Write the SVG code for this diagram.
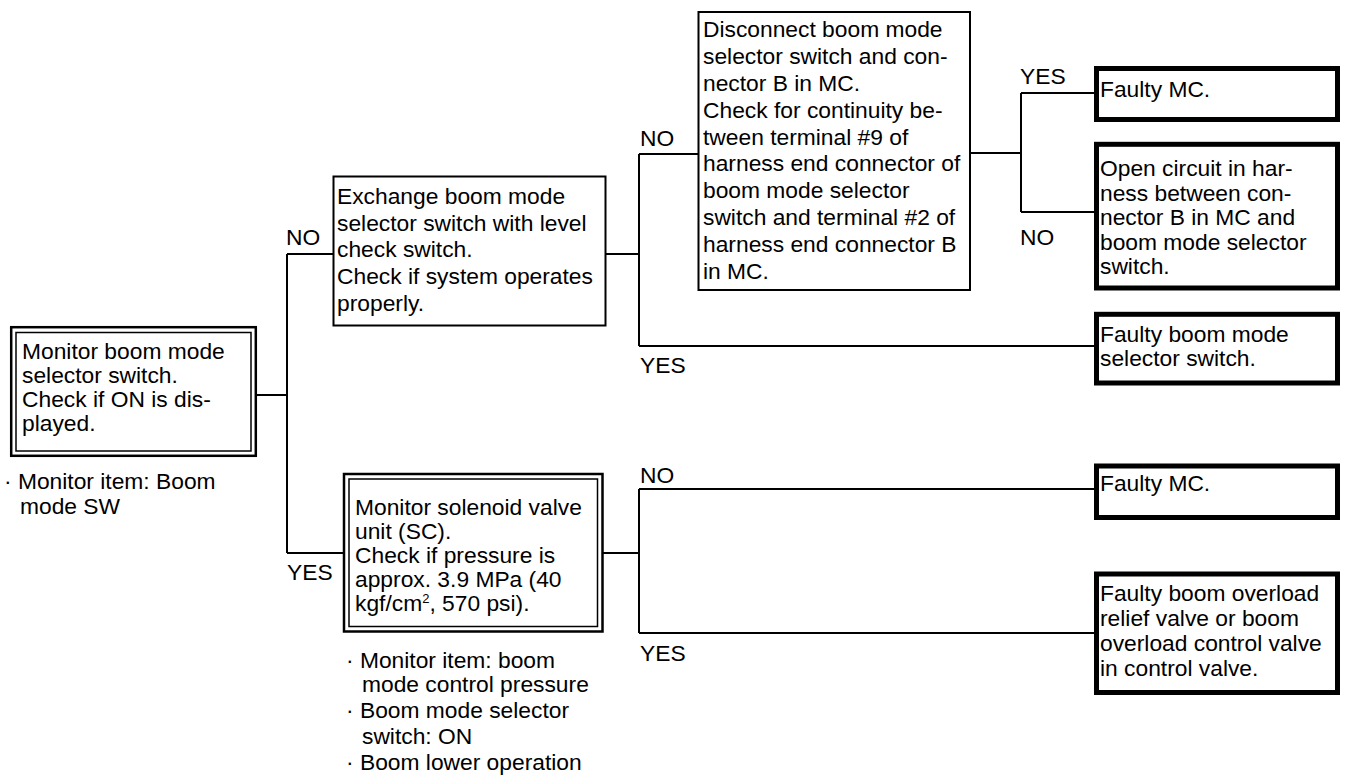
<svg xmlns="http://www.w3.org/2000/svg" width="1345" height="775" viewBox="0 0 1345 775">
<style>
text{font-family:"Liberation Sans",Arial,sans-serif;font-size:22.8px;fill:#000}
.thin{fill:#fff;stroke:#000;stroke-width:2}
.outer{fill:#fff;stroke:#000;stroke-width:2.5}
.inner{fill:none;stroke:#000;stroke-width:1.5}
.thick{fill:#fff;stroke:#000;stroke-width:5}
.conn{fill:none;stroke:#000;stroke-width:2}
</style>
<rect width="1345" height="775" fill="#fff"/>
<g id="connectors">
<path class="conn" d="M257 395H287M287 254V553M287 254H333M287 553H343"/>
<path class="conn" d="M606 254H639M639 154V346M639 154H698M639 346H1094"/>
<path class="conn" d="M970 153H1021M1021 93V212M1021 93H1094M1021 212H1094"/>
<path class="conn" d="M603 553H639M639 489V633M639 489H1094M639 633H1094"/>
<text x="286" y="245">NO</text>
<text x="287" y="580">YES</text>
<text x="640" y="146">NO</text>
<text x="640" y="373">YES</text>
<text x="1020" y="84">YES</text>
<text x="1020" y="245">NO</text>
<text x="640" y="483">NO</text>
<text x="640" y="661">YES</text>
</g>
<g id="n1">
<rect class="outer" x="11.2" y="327.2" width="244.6" height="128.6"/>
<rect class="inner" x="16" y="332.5" width="235" height="118.5"/>
<text x="22" y="359">Monitor boom mode</text>
<text x="22" y="383">selector switch.</text>
<text x="22" y="407">Check if ON is dis-</text>
<text x="22" y="431">played.</text>
<text x="4" y="489">· Monitor item: Boom</text>
<text x="20" y="514">mode SW</text>
</g>
<g id="n2">
<rect class="thin" x="333.5" y="176.5" width="272" height="149"/>
<text x="337" y="204">Exchange boom mode</text>
<text x="337" y="230.5">selector switch with level</text>
<text x="337" y="257">check switch.</text>
<text x="337" y="284">Check if system operates</text>
<text x="337" y="311">properly.</text>
</g>
<g id="n3">
<rect class="thin" x="698.5" y="12" width="271.5" height="278"/>
<text x="703" y="37.4">Disconnect boom mode</text>
<text x="703" y="64.2">selector switch and con-</text>
<text x="703" y="91">nector B in MC.</text>
<text x="703" y="117.8">Check for continuity be-</text>
<text x="703" y="144.6">tween terminal #9 of</text>
<text x="703" y="171.4">harness end connector of</text>
<text x="703" y="198.2">boom mode selector</text>
<text x="703" y="225">switch and terminal #2 of</text>
<text x="703" y="251.8">harness end connector B</text>
<text x="703" y="278.6">in MC.</text>
</g>
<g id="n4">
<rect class="thick" x="1096.5" y="68.5" width="241" height="51"/>
<text x="1100" y="97">Faulty MC.</text>
</g>
<g id="n5">
<rect class="thick" x="1096.5" y="144.3" width="241" height="143.7"/>
<text x="1100" y="176">Open circuit in har-</text>
<text x="1100" y="200.5">ness between con-</text>
<text x="1100" y="225">nector B in MC and</text>
<text x="1100" y="249.5">boom mode selector</text>
<text x="1100" y="274">switch.</text>
</g>
<g id="n6">
<rect class="thick" x="1096.5" y="314.3" width="241" height="68.7"/>
<text x="1100" y="342">Faulty boom mode</text>
<text x="1100" y="366">selector switch.</text>
</g>
<g id="n7">
<rect class="outer" x="344" y="474" width="258.5" height="157.5"/>
<rect class="inner" x="349" y="479" width="248.5" height="147.5"/>
<text x="355" y="514.5">Monitor solenoid valve</text>
<text x="355" y="538.5">unit (SC).</text>
<text x="355" y="562.5">Check if pressure is</text>
<text x="355" y="586.5">approx. 3.9 MPa (40</text>
<text x="355" y="610.5">kgf/cm<tspan font-size="13" dy="-8">2</tspan><tspan dy="8">, 570 psi).</tspan></text>
<text x="346" y="668">· Monitor item: boom</text>
<text x="362" y="692">mode control pressure</text>
<text x="346" y="718">· Boom mode selector</text>
<text x="362" y="744">switch: ON</text>
<text x="346" y="770">· Boom lower operation</text>
</g>
<g id="n8">
<rect class="thick" x="1096.5" y="466" width="241" height="51.5"/>
<text x="1100" y="491">Faulty MC.</text>
</g>
<g id="n9">
<rect class="thick" x="1096.5" y="574" width="241" height="118.5"/>
<text x="1100" y="601">Faulty boom overload</text>
<text x="1100" y="626">relief valve or boom</text>
<text x="1100" y="651">overload control valve</text>
<text x="1100" y="676">in control valve.</text>
</g>
</svg>
